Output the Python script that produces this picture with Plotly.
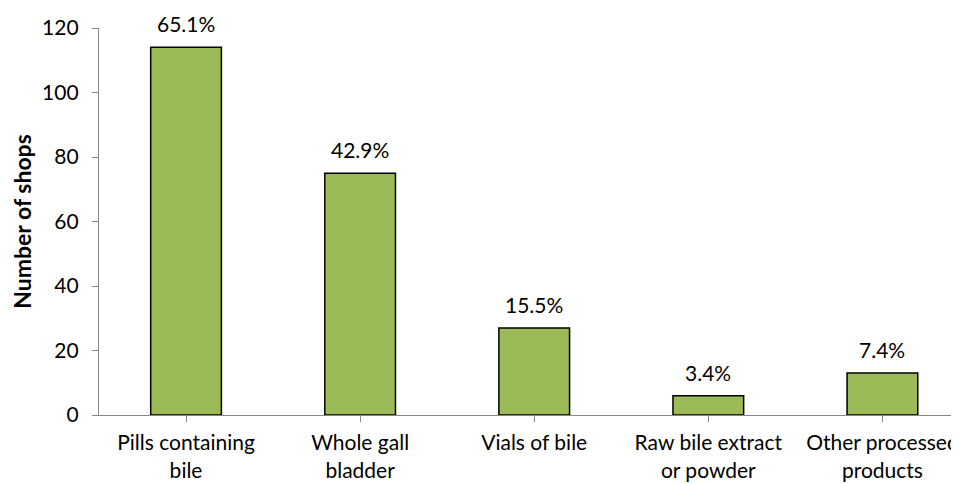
import plotly.graph_objects as go

categories = ["Pills containing<br>bile", "Whole gall<br>bladder", "Vials of bile",
              "Raw bile extract<br>or powder", "Other processed<br>products"]
shops = [114, 75, 27, 6, 13]
pct_labels = ["65.1%", "42.9%", "15.5%", "3.4%", "7.4%"]
y_ticks = [0, 20, 40, 60, 80, 100, 120]

FONT = "Lato"
fig = go.Figure()
fig.add_trace(go.Bar(
    x=list(range(len(categories))), y=shops, width=0.406,
    marker=dict(color="#9BBB59", line=dict(color="#000000", width=1.5)),
    hoverinfo="skip",
))
for i, (v, t) in enumerate(zip(shops, pct_labels)):
    fig.add_annotation(x=i, y=v, text=t, showarrow=False, yshift=23.5,
                       yanchor="middle", font=dict(family=FONT, size=21, color="#000000"))

# page body has an 8px margin; margins compensate for it
fig.update_layout(
    width=959, height=484,
    margin=dict(l=91, r=8, t=20, b=77),
    paper_bgcolor="white", plot_bgcolor="white",
    showlegend=False,
    font=dict(family=FONT, size=21, color="#000000"),
)
fig.update_xaxes(
    range=[-0.5, 4.44], automargin=False,
    tickmode="array", tickvals=list(range(len(categories))), ticktext=categories,
    ticks="outside", ticklen=6, tickcolor="#868686", tickwidth=1.3,
    showline=True, linecolor="#868686", linewidth=1.3,
    showgrid=False, zeroline=False, tickangle=0,
    tickson="boundaries", ticklabelstandoff=3, ticklabeloverflow="allow",
    tickfont=dict(family=FONT, size=21, color="#000000"),
)
fig.update_yaxes(
    range=[0, 120], tickmode="array", tickvals=y_ticks, automargin=False,
    ticks="outside", ticklen=6, tickcolor="#868686", tickwidth=1.3,
    showline=True, linecolor="#868686", linewidth=1.3,
    showgrid=False, zeroline=False,
    ticklabelstandoff=9,
    tickfont=dict(family=FONT, size=21, color="#000000"),
    title=dict(text="<b>Number of shops</b>", standoff=5,
               font=dict(family=FONT, size=23, color="#000000")),
)
fig.write_html("out.html")
